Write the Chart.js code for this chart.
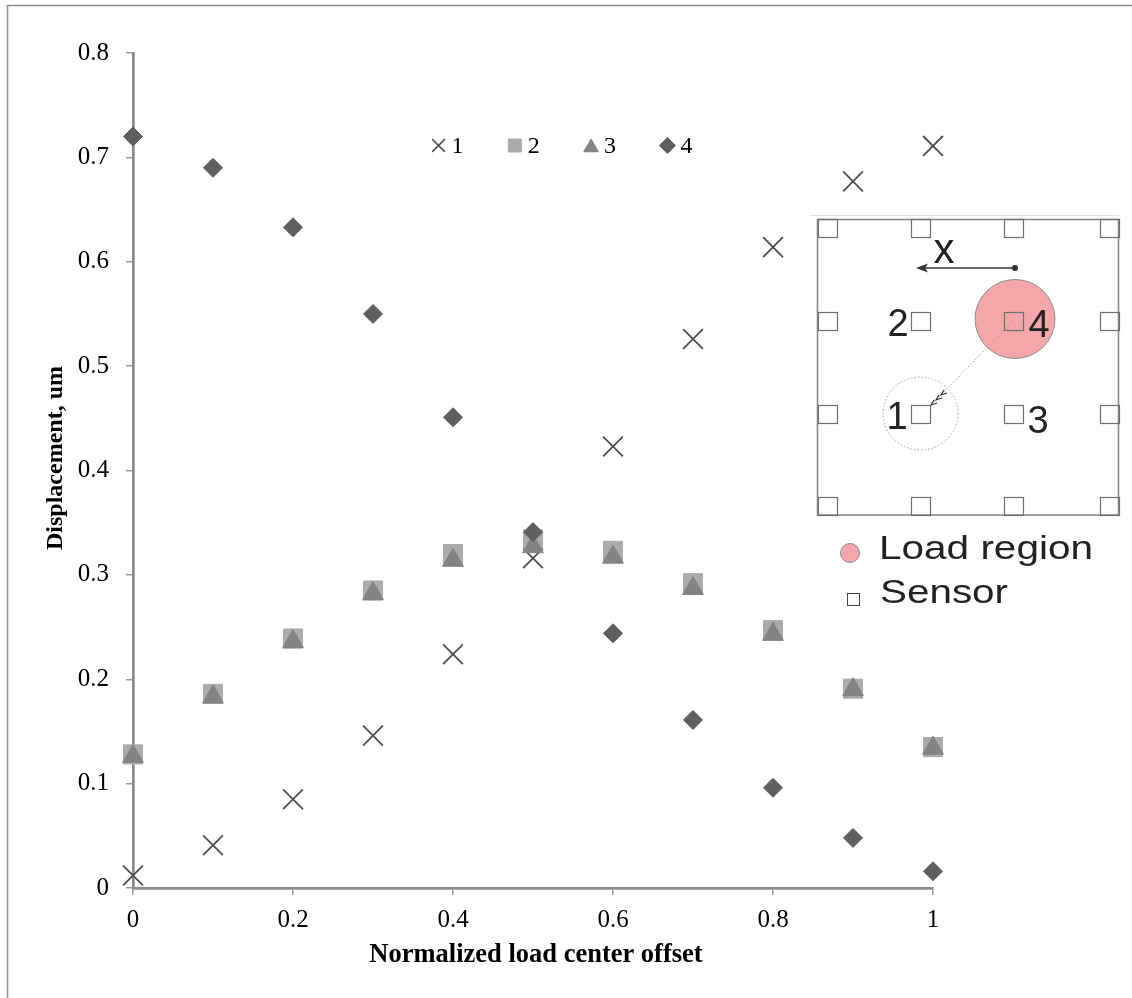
<!DOCTYPE html>
<html lang="en">
<head>
<meta charset="UTF-8">
<title>Displacement vs normalized load center offset</title>
<script src="https://cdn.jsdelivr.net/npm/chart.js"></script>
<style>
  body { margin: 0; background: #fff; }
  canvas { display: block; }
</style>
</head>
<body>
<canvas id="dispChart" width="1132" height="998"></canvas>
<script>
// offset of the load center, one reading per step
const offsets = [0, 0.1, 0.2, 0.3, 0.4, 0.5, 0.6, 0.7, 0.8, 0.9, 1];

// displacement (um) seen by each sensor
const sensor1 = [0.012, 0.041, 0.085, 0.146, 0.224, 0.316, 0.423, 0.526, 0.614, 0.677, 0.711];
const sensor2 = [0.128, 0.186, 0.239, 0.285, 0.320, 0.334, 0.323, 0.292, 0.247, 0.191, 0.135];
const sensor3 = [0.126, 0.183, 0.236, 0.282, 0.314, 0.327, 0.317, 0.287, 0.243, 0.190, 0.134];
const sensor4 = [0.720, 0.690, 0.633, 0.550, 0.451, 0.341, 0.244, 0.161, 0.096, 0.048, 0.016];

const seriesNames = ['1', '2', '3', '4'];
const xTicks = [0, 0.2, 0.4, 0.6, 0.8, 1];
const yTicks = [0, 0.1, 0.2, 0.3, 0.4, 0.5, 0.6, 0.7, 0.8];

const SERIF = '"Liberation Serif", "Times New Roman", serif';
const SANS = '"Liberation Sans", Arial, sans-serif';

function pts(vals) {
  return offsets.map((x, i) => ({ x: x, y: vals[i] }));
}

// marker sizes used in the small in-plot legend
const legendRadius = [9, 9.2, 8.5, 8];

const legendPlugin = {
  id: 'rowLegend',
  afterDatasetsDraw(chart) {
    const ctx = chart.ctx;
    const startX = 438.5, stepX = 76.3, y = 145.5;
    ctx.save();
    chart.data.datasets.forEach((ds, i) => {
      const cx = startX + i * stepX;
      ctx.fillStyle = ds.pointStyle === 'crossRot' ? 'rgba(0,0,0,0)' : ds.backgroundColor;
      ctx.strokeStyle = ds.borderColor;
      ctx.lineWidth = ds.pointStyle === 'crossRot' ? 1.5 : 1;
      Chart.helpers.drawPoint(ctx, {
        pointStyle: ds.pointStyle,
        radius: legendRadius[i],
        borderWidth: ctx.lineWidth,
        rotation: 0
      }, cx, ds.pointStyle === 'triangle' ? y + 2 : y);
      ctx.fillStyle = '#000';
      ctx.font = '24px ' + SERIF;
      ctx.textAlign = 'left';
      ctx.textBaseline = 'alphabetic';
      ctx.fillText(ds.label, cx + 13, 153);
    });
    ctx.restore();
  }
};

// axis titles and the outer frame
const framePlugin = {
  id: 'frameAndTitles',
  afterDraw(chart) {
    const ctx = chart.ctx;
    const area = chart.chartArea;
    ctx.save();
    ctx.strokeStyle = '#8f8f8f';
    ctx.lineWidth = 1.5;
    ctx.beginPath();
    ctx.moveTo(7.5, 998);
    ctx.lineTo(7.5, 5.5);
    ctx.lineTo(1132, 5.5);
    ctx.stroke();

    ctx.fillStyle = '#000';
    ctx.font = 'bold 26.5px ' + SERIF;
    ctx.textAlign = 'center';
    ctx.textBaseline = 'middle';
    ctx.fillText('Normalized load center offset', (area.left + area.right) / 2 + 3, 955);

    ctx.translate(56, 458);
    ctx.rotate(-Math.PI / 2);
    ctx.font = 'bold 24px ' + SERIF;
    ctx.fillText('Displacement, um', 0, 0);
    ctx.restore();
  }
};

// sketch of the sensor board with the load region
const insetPlugin = {
  id: 'boardSketch',
  afterDraw(chart) {
    const ctx = chart.ctx;
    ctx.save();

    ctx.strokeStyle = '#e2e2e2';
    ctx.lineWidth = 1;
    ctx.beginPath();
    ctx.moveTo(810, 215.5);
    ctx.lineTo(1119, 215.5);
    ctx.stroke();

    // board outline
    ctx.strokeStyle = '#8a8a8a';
    ctx.lineWidth = 1.6;
    ctx.strokeRect(817.5, 219.5, 301, 295.5);

    // load region
    ctx.fillStyle = '#f4a6a9';
    ctx.strokeStyle = '#8d8d8d';
    ctx.lineWidth = 1;
    ctx.beginPath();
    ctx.ellipse(1015, 319, 40, 39.5, 0, 0, Math.PI * 2);
    ctx.fill();
    ctx.stroke();

    // dotted trace of the load center moving toward sensor 1
    ctx.strokeStyle = '#9a9a9a';
    ctx.setLineDash([1.5, 2]);
    ctx.beginPath();
    ctx.ellipse(920.5, 413.5, 37.5, 36.5, 0, 0, Math.PI * 2);
    ctx.stroke();
    ctx.beginPath();
    ctx.moveTo(1013, 321);
    ctx.lineTo(934, 402);
    ctx.stroke();
    ctx.setLineDash([]);

    // chevrons on the trace
    ctx.strokeStyle = '#333';
    ctx.lineWidth = 1.2;
    [[933, 404], [938, 399], [943, 394]].forEach(([cx, cy]) => {
      ctx.beginPath();
      ctx.moveTo(cx + 1, cy - 4);
      ctx.lineTo(cx - 2, cy + 1);
      ctx.lineTo(cx + 4, cy - 1);
      ctx.stroke();
    });

    // sensor grid
    const cols = [827, 920.5, 1013.5, 1109];
    const rows = [228, 320.5, 413.5, 506];
    ctx.strokeStyle = '#6f6f6f';
    ctx.lineWidth = 1.2;
    rows.forEach(y => cols.forEach(x => {
      ctx.strokeRect(Math.round(x - 9.5) + 0.5, Math.round(y - 9) + 0.5, 19, 18);
    }));

    // direction arrow
    ctx.strokeStyle = '#333';
    ctx.fillStyle = '#333';
    ctx.lineWidth = 1.5;
    ctx.beginPath();
    ctx.moveTo(1015, 268);
    ctx.lineTo(924, 268);
    ctx.stroke();
    ctx.beginPath();
    ctx.moveTo(916, 268);
    ctx.lineTo(928, 263.5);
    ctx.lineTo(925, 268);
    ctx.lineTo(928, 272.5);
    ctx.closePath();
    ctx.fill();
    ctx.beginPath();
    ctx.arc(1015, 268, 3, 0, Math.PI * 2);
    ctx.fill();

    ctx.fillStyle = '#222';
    ctx.textAlign = 'center';
    ctx.textBaseline = 'alphabetic';
    ctx.font = '42px ' + SANS;
    ctx.fillText('x', 944, 263);

    ctx.font = '38px ' + SANS;
    ctx.fillText('2', 898, 336);
    ctx.fillText('4', 1039, 337);
    ctx.fillText('1', 897, 429);
    ctx.fillText('3', 1038, 433);

    // sketch legend
    ctx.fillStyle = '#f4a6a9';
    ctx.strokeStyle = '#8d8d8d';
    ctx.lineWidth = 1;
    ctx.beginPath();
    ctx.arc(850, 553, 9.5, 0, Math.PI * 2);
    ctx.fill();
    ctx.stroke();
    ctx.strokeStyle = '#444';
    ctx.strokeRect(847.5, 593.5, 12, 12);

    ctx.fillStyle = '#222';
    ctx.textAlign = 'left';
    ctx.font = '34px ' + SANS;
    [['Load region', 879, 559, 214], ['Sensor', 880, 603, 128]].forEach(([txt, x, y, w]) => {
      const k = w / ctx.measureText(txt).width;
      ctx.save();
      ctx.translate(x, y);
      ctx.scale(k, 1);
      ctx.fillText(txt, 0, 0);
      ctx.restore();
    });

    ctx.restore();
  }
};

const axisLine = { color: '#8a8a8a', width: 2.7 };
const tickMarks = { drawOnChartArea: false, drawTicks: true, tickLength: 7, color: '#9a9a9a', lineWidth: 1.5 };

new Chart(document.getElementById('dispChart'), {
  type: 'scatter',
  data: {
    datasets: [
      {
        label: seriesNames[0], data: pts(sensor1), order: 4,
        pointStyle: 'crossRot', pointRadius: 14, pointBorderWidth: 1.8,
        borderColor: '#4f4f4f', backgroundColor: 'rgba(0,0,0,0)'
      },
      {
        label: seriesNames[1], data: pts(sensor2), order: 3,
        pointStyle: 'rect', pointRadius: 13.5, pointBorderWidth: 1,
        borderColor: '#ababab', backgroundColor: '#ababab'
      },
      {
        label: seriesNames[2], data: pts(sensor3), order: 2,
        pointStyle: 'triangle', pointRadius: 12, pointBorderWidth: 1,
        borderColor: '#838383', backgroundColor: '#838383'
      },
      {
        label: seriesNames[3], data: pts(sensor4), order: 1,
        pointStyle: 'rectRot', pointRadius: 9.5, pointBorderWidth: 1,
        borderColor: '#5f5f5f', backgroundColor: '#5f5f5f'
      }
    ]
  },
  options: {
    responsive: false,
    animation: false,
    events: [],
    clip: false,
    layout: { padding: { left: 0, top: 53, right: 199, bottom: 0 } },
    plugins: {
      legend: { display: false },
      tooltip: { enabled: false }
    },
    scales: {
      x: {
        type: 'linear',
        min: 0,
        max: 1,
        afterFit: s => { s.height = 110; },
        afterBuildTicks: s => { s.ticks = xTicks.map(v => ({ value: v })); },
        border: axisLine,
        grid: tickMarks,
        ticks: {
          padding: 10,
          color: '#000',
          font: { family: SERIF, size: 25 },
          maxRotation: 0,
          callback: v => String(v)
        }
      },
      y: {
        type: 'linear',
        min: 0,
        max: 0.8,
        afterFit: s => { s.width = 133; },
        afterBuildTicks: s => { s.ticks = yTicks.map(v => ({ value: v })); },
        border: axisLine,
        grid: tickMarks,
        ticks: {
          padding: 17,
          color: '#000',
          font: { family: SERIF, size: 25 },
          callback: v => String(v)
        }
      }
    }
  },
  plugins: [legendPlugin, framePlugin, insetPlugin]
});
</script>
</body>
</html>
